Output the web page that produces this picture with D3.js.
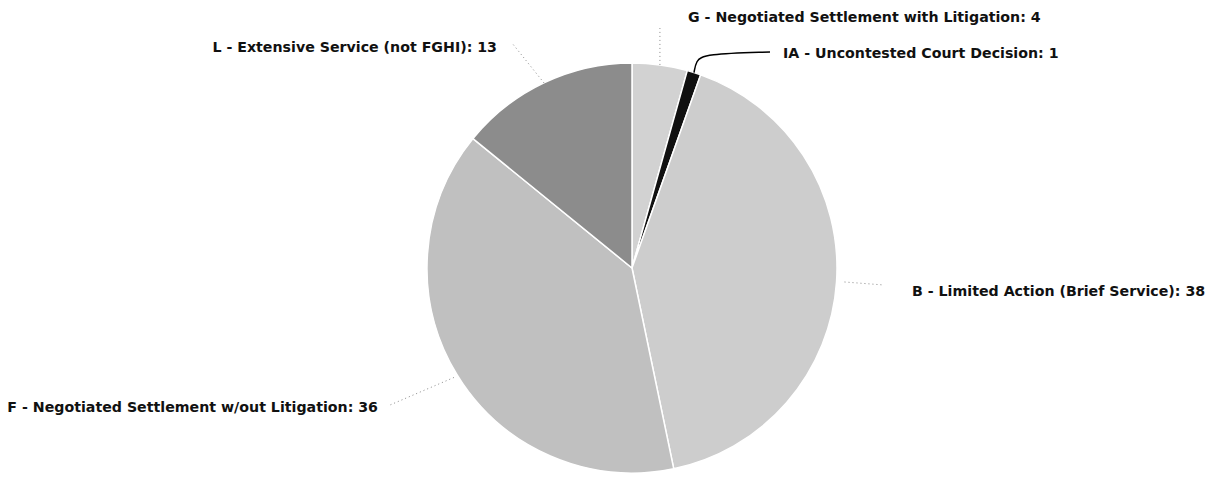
<!DOCTYPE html>
<html><head><meta charset="utf-8">
<script src="https://cdn.jsdelivr.net/npm/d3@7/dist/d3.min.js"></script>
<style>body{margin:0;background:#fff}svg{display:block}</style>
</head><body><svg id="c" width="1218" height="478"></svg>
<script>
const categories = ["G - Negotiated Settlement with Litigation","IA - Uncontested Court Decision","B - Limited Action (Brief Service)","F - Negotiated Settlement w/out Litigation","L - Extensive Service (not FGHI)"];
const values = [4, 1, 38, 36, 13];
const colors = ["#d2d2d2", "#111111", "#cdcdcd", "#c0c0c0", "#8c8c8c"];

const W = 1218, H = 478, cx = 632, cy = 268, R = 205;
const svg = d3.select("#c");
const g = svg.append("g").attr("transform", `translate(${cx},${cy})`);
const pie = d3.pie().sort(null).value(d => d.v);
const data = pie(categories.map((c, i) => ({c, v: values[i], col: colors[i]})));
const arc = d3.arc().innerRadius(0).outerRadius(R);
g.selectAll("path.s").data(data).join("path").attr("class","s")
  .attr("d", arc).attr("fill", d => d.data.col)
  .attr("stroke", "#fff").attr("stroke-width", 1.5);

// label layout (positions relative to chart centre)
const layout = [
  {tx: 56,  ty: -251, anchor: "start", path: (p) => [[p[0], p[1]], [p[0], -240]], dash: true},
  {tx: 151, ty: -215, anchor: "start", path: (p) => [[p[0], p[1]], [p[0]+2, -207], [p[0]+10, -214], [138, -216]], dash: false},
  {tx: 280, ty: 23,   anchor: "start", path: (p) => [[p[0]+8, p[1]], [252, 17]], dash: true},
  {tx: 378-cx, ty: 139, anchor: "end", path: (p) => [[p[0]-3, p[1]+3], [390-cx, 137]], dash: true},
  {tx: 497-cx, ty: -221, anchor: "end", path: (p) => [[p[0], p[1]], [512-cx, -225]], dash: true}
];
const outer = d3.arc().innerRadius(R).outerRadius(R);
data.forEach((d, i) => {
  const L = layout[i];
  const p = outer.centroid(d);
  const pts = L.path(p);
  g.append("path").attr("d", (L.dash ? d3.line() : d3.line().curve(d3.curveBasis))(pts))
    .attr("fill", "none")
    .attr("stroke", L.dash ? "#888" : "#000")
    .attr("stroke-width", L.dash ? 1 : 1.5)
    .attr("stroke-dasharray", L.dash ? "1,3" : null);
  g.append("text").attr("x", L.tx).attr("y", L.ty).attr("dy", "0.35em")
    .attr("text-anchor", L.anchor)
    .attr("font-family", "DejaVu Sans, sans-serif").attr("font-size", 14.2).attr("font-weight", "bold")
    .attr("fill", "#111")
    .text(d.data.c + ": " + d.data.v);
});
</script></body></html>
